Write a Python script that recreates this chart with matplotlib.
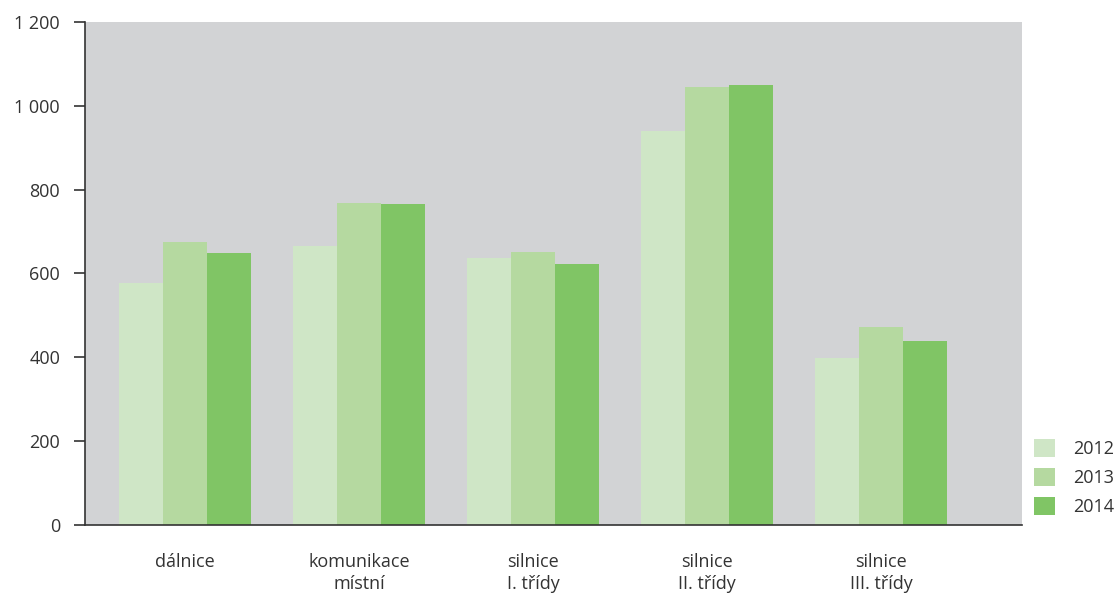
import matplotlib
matplotlib.use('Agg')
import matplotlib.pyplot as plt
import numpy as np
from matplotlib.patches import Patch

plt.rcParams['font.family'] = ['Open Sans', 'DejaVu Sans']

categories = ['dálnice', 'komunikace\nmístní', 'silnice\nI. třídy', 'silnice\nII. třídy', 'silnice\nIII. třídy']
years = ['2012', '2013', '2014']
v2012 = [577, 665, 636, 940, 398]
v2013 = [675, 768, 651, 1044, 472]
v2014 = [648, 765, 622, 1049, 439]
colors = ['#cfe6c6', '#b5d9a0', '#80c565']

fig = plt.figure(figsize=(11.17, 5.94), dpi=100)
ax = fig.add_axes([0.0761, 0.1162, 0.915 - 0.0761, 0.963 - 0.1162])
ax.set_facecolor('#d2d3d5')

x = np.arange(len(categories))
w = 0.253
for i, vals in enumerate([v2012, v2013, v2014]):
    ax.bar(x + (i - 1) * w, vals, width=w, color=colors[i], label=years[i], zorder=2)

ax.set_xlim(-0.575, 4.81)
ax.set_ylim(0, 1200)
ax.set_yticks(range(0, 1201, 200))
ax.set_yticklabels([f'{v:,}'.replace(',', ' ') for v in range(0, 1201, 200)])
ax.set_xticks(x)
ax.set_xticklabels(categories, linespacing=1.3)

for s in ['top', 'right']:
    ax.spines[s].set_visible(False)
for s in ['left', 'bottom']:
    ax.spines[s].set_color('#333333')
    ax.spines[s].set_linewidth(1.2)

ax.tick_params(axis='y', length=8, width=1.2, color='#333333', labelsize=13, labelcolor='#333333', pad=10)
ax.tick_params(axis='x', length=0, labelsize=13, labelcolor='#333333', pad=20)

handles = [Patch(facecolor=c, label=y) for c, y in zip(colors, years)]
fig.legend(handles=handles, loc='lower left', bbox_to_anchor=(0.918, 0.116), frameon=False,
           fontsize=13, handlelength=1.16, handleheight=1.16, labelspacing=0.55,
           handletextpad=1.0, borderpad=0, labelcolor='#333333')

fig.savefig('out.png', dpi=100)
